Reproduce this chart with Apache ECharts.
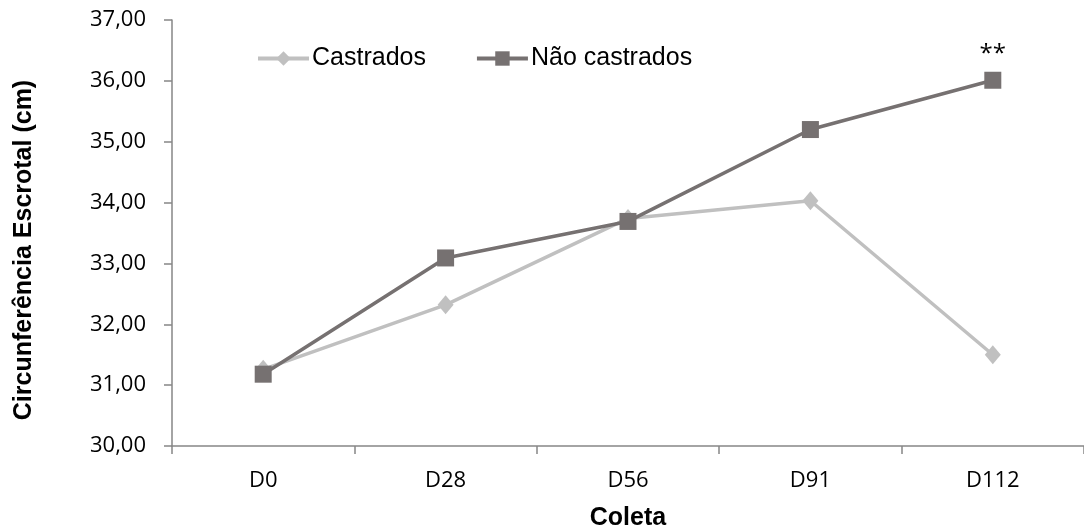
<!DOCTYPE html>
<html><head><meta charset="utf-8">
<script src="https://cdn.jsdelivr.net/npm/echarts@6/dist/echarts.min.js"></script>
<style>html,body{margin:0;padding:0;background:#fff}#c{width:1084px;height:531px}</style>
</head><body><div id="c"></div>
<script>
const categories = ['D0', 'D28', 'D56', 'D91', 'D112'];
const castrados = [31.26, 32.32, 33.74, 34.03, 31.50];
const naoCastrados = [31.18, 33.09, 33.69, 35.20, 36.01];
const seriesNames = ['Castrados', 'Não castrados'];
const annotations = ['', '', '', '', '**'];
const yTitle = 'Circunferência Escrotal (cm)';
const xTitle = 'Coleta';
const yMin = 30, yMax = 37, yStep = 1;

const chart = echarts.init(document.getElementById('c'), null, {renderer: 'canvas'});
const axisColor = '#868686';
const tickFont = 'Open Sans';
chart.setOption({
  animation: false,
  backgroundColor: '#fff',
  grid: {left: 172, right: 0, top: 20, bottom: 85, containLabel: false, outerBoundsMode: 'none'},
  legend: {
    left: 251, top: 41, itemWidth: 51, itemHeight: 18, itemGap: 49,
    lineStyle: {width: 4},
    textStyle: {fontFamily: 'Liberation Sans', fontSize: 25, color: '#000', padding: [0,0,0,-2]},
    data: seriesNames
  },
  graphic: [{
    type: 'text', x: 24, y: 250, rotation: Math.PI / 2,
    style: {text: yTitle, fontFamily: 'Liberation Sans', fontWeight: 'bold', fontSize: 25,
      fill: '#000', align: 'center', verticalAlign: 'middle'}
  }],
  xAxis: {
    type: 'category', data: categories, boundaryGap: true,
    name: xTitle, nameLocation: 'middle', nameGap: 60,
    nameTextStyle: {fontFamily: 'Liberation Sans', fontWeight: 'bold', fontSize: 25, color: '#000'},
    axisLine: {lineStyle: {color: axisColor, width: 1.5}},
    axisTick: {show: true, length: 8, lineStyle: {color: axisColor, width: 1.5}},
    axisLabel: {fontFamily: tickFont, fontSize: 22, color: '#000', margin: 24}
  },
  yAxis: {
    type: 'value', min: yMin, max: yMax, interval: yStep,
    splitLine: {show: false},
    axisLine: {show: true, lineStyle: {color: axisColor, width: 1.5}},
    axisTick: {show: true, length: 8, lineStyle: {color: axisColor, width: 1.5}},
    axisLabel: {fontFamily: tickFont, fontSize: 22, color: '#000', margin: 26,
      formatter: v => v.toFixed(2).replace('.', ',')}
  },
  series: [
    {
      name: seriesNames[0], type: 'line', data: castrados,
      symbol: 'diamond', symbolSize: [16, 19],
      lineStyle: {color: '#C0C0C0', width: 3.5},
      itemStyle: {color: '#C0C0C0'}, z: 2
    },
    {
      name: seriesNames[1], type: 'line',
      data: naoCastrados.map((v, i) => ({
        value: v,
        label: {show: annotations[i] !== '', formatter: annotations[i], position: 'top', distance: 6,
          fontFamily: tickFont, fontSize: 24, color: '#000'}
      })),
      symbol: 'rect', symbolSize: 17,
      lineStyle: {color: '#767171', width: 3.5},
      itemStyle: {color: '#767171'}, z: 3
    }
  ]
});
</script></body></html>
